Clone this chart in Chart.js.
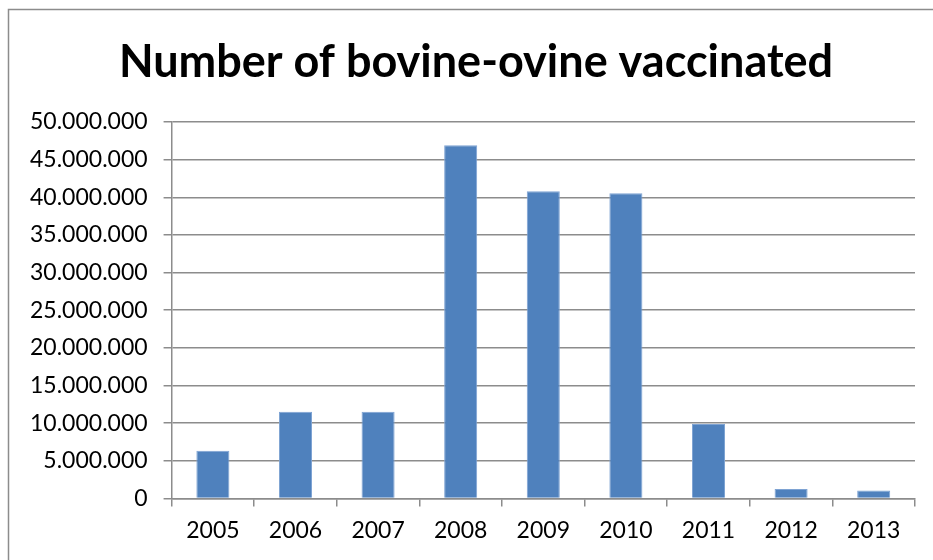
<!DOCTYPE html>
<html>
<head>
<meta charset="utf-8">
<script src="https://cdn.jsdelivr.net/npm/chart.js@4.4.1/dist/chart.umd.min.js"></script>
<style>
  html, body { margin: 0; padding: 0; background: #fff; }
  #wrap { width: 933px; height: 560px; }
</style>
</head>
<body>
<div id="wrap"><canvas id="chart" width="933" height="560"></canvas></div>
<script>
const years = ['2005', '2006', '2007', '2008', '2009', '2010', '2011', '2012', '2013'];
const vaccinated = [6320000, 11500000, 11500000, 46900000, 40800000, 40550000, 9870000, 1240000, 1060000];
const yMax = 50000000;
const yStep = 5000000;
const chartTitle = 'Number of bovine-ovine vaccinated';

// thousands separated with dots, e.g. 45.000.000
const dotted = (v) => String(v).replace(/\B(?=(\d{3})+(?!\d))/g, '.');

// grey frame around the chart, title centred on the framed box
const frame = {
  id: 'frame',
  beforeDraw(chart) {
    const c = chart.ctx;
    c.save();
    c.strokeStyle = '#8c8c8c';
    c.lineWidth = 1.5;
    c.strokeRect(8.5, 9.5, 1000, 1000);
    c.restore();
  },
  afterDraw(chart) {
    const c = chart.ctx;
    c.save();
    c.fillStyle = '#000';
    c.font = 'bold 45px Lato';
    c.textAlign = 'center';
    c.textBaseline = 'middle';
    c.fillText(chartTitle, 476, 62);
    c.restore();
  }
};

const ctx = document.getElementById('chart').getContext('2d');
new Chart(ctx, {
  type: 'bar',
  data: {
    labels: years,
    datasets: [{
      data: vaccinated,
      backgroundColor: '#4f81bd',
      borderColor: '#7ea3d3',
      borderWidth: 1,
      categoryPercentage: 0.8,
      barPercentage: 0.5
    }]
  },
  options: {
    responsive: false,
    animation: false,
    layout: { padding: { left: 14, right: 18, top: 122, bottom: 6 } },
    plugins: {
      legend: { display: false },
      tooltip: { enabled: false },
      title: { display: false }
    },
    scales: {
      x: {
        grid: {
          drawOnChartArea: false,
          offset: true,
          color: '#8c8c8c',
          lineWidth: 1.5,
          tickLength: 8
        },
        border: { color: '#8c8c8c', width: 1.5 },
        ticks: { color: '#000', font: { family: 'Lato', size: 23 }, padding: 10 }
      },
      y: {
        min: 0,
        max: yMax,
        grid: { color: '#8c8c8c', lineWidth: 1.5, tickLength: 8 },
        border: { color: '#8c8c8c', width: 1.5 },
        ticks: {
          stepSize: yStep,
          color: '#000',
          font: { family: 'Lato', size: 23 },
          padding: 16,
          callback: (v) => dotted(v)
        }
      }
    }
  },
  plugins: [frame]
});
</script>
</body>
</html>
